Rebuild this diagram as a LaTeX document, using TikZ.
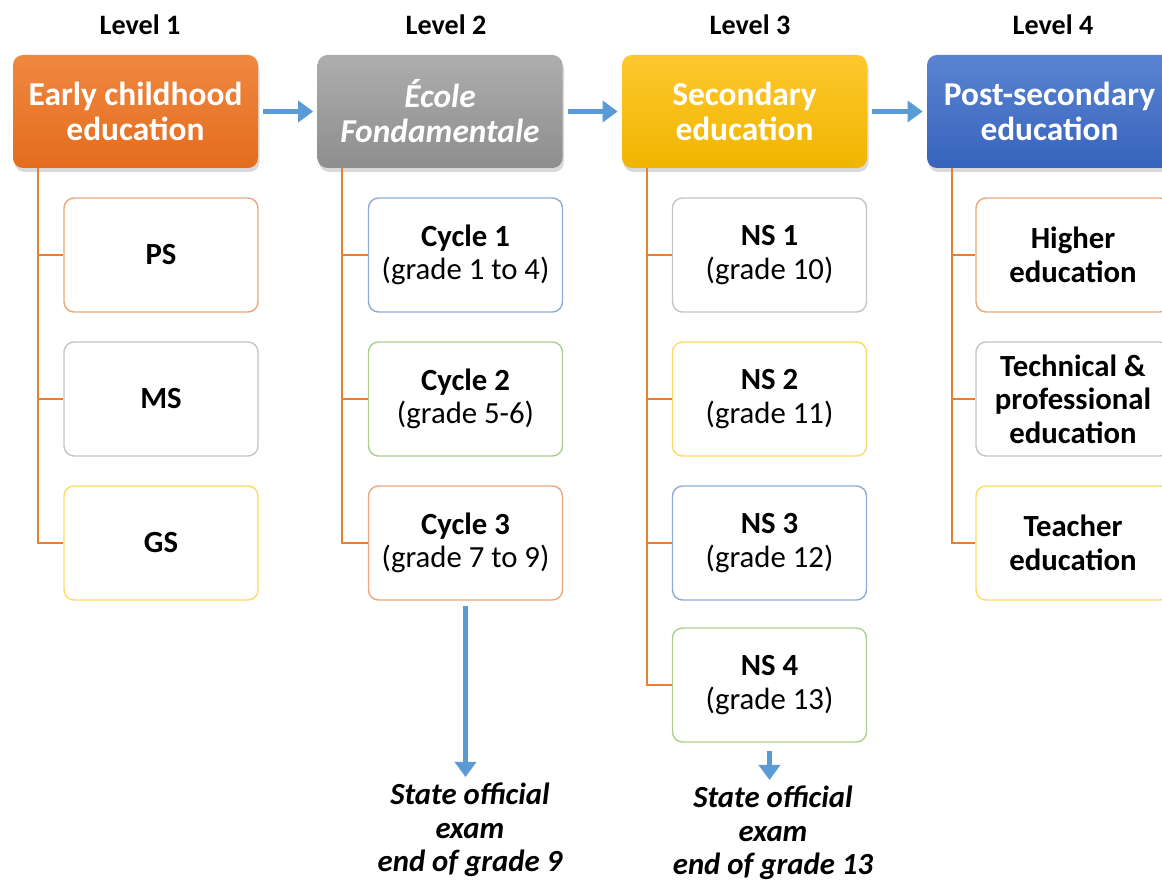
\documentclass[tikz,border=0pt]{standalone}
\usepackage{fontspec}
\setmainfont{Carlito}
\usetikzlibrary{arrows.meta,shadows}

\definecolor{treeline}{HTML}{ED7D31}
\definecolor{flowblue}{HTML}{5B9BD5}
\definecolor{bxorange}{HTML}{E9A77A}
\definecolor{bxgrey}{HTML}{C4C4C4}
\definecolor{bxyellow}{HTML}{FFD966}
\definecolor{bxblue}{HTML}{8FAADC}
\definecolor{bxgreen}{HTML}{A9D18E}
\definecolor{hdorangetop}{HTML}{F08840}
\definecolor{hdorangebot}{HTML}{E46C1E}
\definecolor{hdgreytop}{HTML}{ADADAD}
\definecolor{hdgreybot}{HTML}{8E8E8E}
\definecolor{hdgoldtop}{HTML}{FFC82E}
\definecolor{hdgoldbot}{HTML}{EFB500}
\definecolor{hdbluetop}{HTML}{5A84D2}
\definecolor{hdbluebot}{HTML}{3763BC}

\begin{document}
\begin{tikzpicture}[
  head/.style={rounded corners=0.2cm, minimum width=4.9cm, minimum height=2.26cm,
    text=white, align=center, font=\fontsize{19}{20}\selectfont\bfseries,
    drop shadow={opacity=0.3, shadow xshift=0.03cm, shadow yshift=-0.08cm}},
  item/.style={draw, rounded corners=0.2cm, minimum width=3.88cm, minimum height=2.28cm,
    align=center, line width=0.8pt, fill=white, font=\fontsize{17.5}{19}\selectfont},
  level/.style={font=\fontsize{16}{18}\selectfont\bfseries},
  tree/.style={draw=treeline, line width=1.3pt},
  flow/.style={draw=flowblue, line width=2.8pt, -{Triangle[length=0.3cm,width=0.42cm]}},
  exam/.style={align=center, font=\fontsize{17.5}{19}\selectfont\bfseries\itshape}
]
\useasboundingbox (0,0) rectangle (23.24,17.64);

% levels
\node[level] (lv1) at (2.8,17.14) {Level 1};
\node[level] (lv2) at (8.92,17.14) {Level 2};
\node[level] (lv3) at (15.0,17.14) {Level 3};
\node[level] (lv4) at (21.06,17.14) {Level 4};

\node[head, top color=hdorangetop, bottom color=hdorangebot] (early) at (2.71,15.41) {Early childhood\\education};
\node[head, top color=hdgreytop, bottom color=hdgreybot] (ecole) at (8.8,15.41) {\itshape École\\\itshape Fondamentale};
\node[head, top color=hdgoldtop, bottom color=hdgoldbot] (second) at (14.89,15.41) {Secondary\\education};
\node[head, top color=hdbluetop, bottom color=hdbluebot] (post) at (20.99,15.41) {Post-secondary\\education};

\draw[flow, shorten <=0.1cm, shorten >=0.08cm] (early.east) -- (ecole.west);
\draw[flow, shorten <=0.1cm, shorten >=0.08cm] (ecole.east) -- (second.west);
\draw[flow, shorten <=0.1cm, shorten >=0.08cm] (second.east) -- (post.west);

% level 1
\node[item, draw=bxorange] (ps) at (3.22,12.54) {\textbf{PS}};
\node[item, draw=bxgrey] (ms) at (3.22,9.66) {\textbf{MS}};
\node[item, draw=bxyellow] (gs) at (3.22,6.78) {\textbf{GS}};
\draw[tree] ([xshift=0.5cm]early.south west) |- (ps.west);
\draw[tree] ([xshift=0.5cm]early.south west) |- (ms.west);
\draw[tree] ([xshift=0.5cm]early.south west) |- (gs.west);

% level 2
\node[item, draw=bxblue] (cyc1) at (9.31,12.54) {\textbf{Cycle 1}\\(grade 1 to 4)};
\node[item, draw=bxgreen] (cyc2) at (9.31,9.66) {\textbf{Cycle 2}\\(grade 5-6)};
\node[item, draw=bxorange] (cyc3) at (9.31,6.78) {\textbf{Cycle 3}\\(grade 7 to 9)};
\draw[tree] ([xshift=0.5cm]ecole.south west) |- (cyc1.west);
\draw[tree] ([xshift=0.5cm]ecole.south west) |- (cyc2.west);
\draw[tree] ([xshift=0.5cm]ecole.south west) |- (cyc3.west);

% level 3
\node[item, draw=bxgrey] (ns1) at (15.39,12.54) {\textbf{NS 1}\\(grade 10)};
\node[item, draw=bxyellow] (ns2) at (15.39,9.66) {\textbf{NS 2}\\(grade 11)};
\node[item, draw=bxblue] (ns3) at (15.39,6.78) {\textbf{NS 3}\\(grade 12)};
\node[item, draw=bxgreen] (ns4) at (15.39,3.94) {\textbf{NS 4}\\(grade 13)};
\draw[tree] ([xshift=0.5cm]second.south west) |- (ns1.west);
\draw[tree] ([xshift=0.5cm]second.south west) |- (ns2.west);
\draw[tree] ([xshift=0.5cm]second.south west) |- (ns3.west);
\draw[tree] ([xshift=0.5cm]second.south west) |- (ns4.west);

% level 4
\node[item, draw=bxorange] (higher) at (21.46,12.54) {\textbf{Higher}\\\textbf{education}};
\node[item, draw=bxgrey] (techn) at (21.46,9.66) {\textbf{Technical \&}\\\textbf{professional}\\\textbf{education}};
\node[item, draw=bxyellow] (teach) at (21.46,6.78) {\textbf{Teacher}\\\textbf{education}};
\draw[tree] ([xshift=0.5cm]post.south west) |- (higher.west);
\draw[tree] ([xshift=0.5cm]post.south west) |- (techn.west);
\draw[tree] ([xshift=0.5cm]post.south west) |- (teach.west);

% exams
\node[exam] (exam9) at (9.4,1.04) {State official\\exam\\end of grade 9};
\node[exam] (exam13) at (15.46,0.98) {State official\\exam\\end of grade 13};
\draw[flow, shorten <=0.1cm] (cyc3.south) -- (cyc3.south |- exam9.north);
\draw[flow, shorten <=0.16cm] (ns4.south) -- (ns4.south |- exam13.north);
\end{tikzpicture}
\end{document}
